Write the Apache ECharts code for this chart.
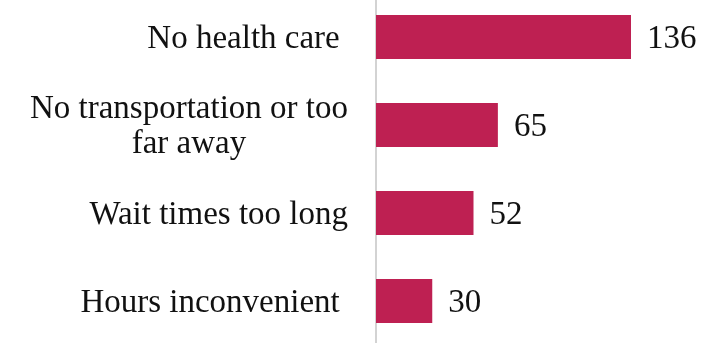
<!DOCTYPE html>
<html>
<head>
<meta charset="utf-8">
<script src="https://cdn.jsdelivr.net/npm/echarts@6/dist/echarts.min.js"></script>
<style>
  html, body { margin: 0; padding: 0; background: #ffffff; }
  #chart { width: 717px; height: 343px; }
</style>
</head>
<body>
<div id="chart"></div>
<script>
// Reasons for not getting care, counts of responses
const categories = [
  'No health care ',
  'No transportation or too\nfar away',
  'Wait times too long',
  'Hours inconvenient '
];
const counts = [136, 65, 52, 30];

const FONT = '"Liberation Serif", "DejaVu Serif", serif';
const BAR_COLOR = '#BE2052';
const TEXT_COLOR = '#111111';

const chart = echarts.init(document.getElementById('chart'), null, { renderer: 'canvas' });

chart.setOption({
  animation: false,
  backgroundColor: '#ffffff',
  grid: {
    left: 376, top: -7, width: 300, height: 352,
    containLabel: false,
    outerBoundsMode: 'none'
  },
  xAxis: {
    type: 'value',
    min: 0,
    max: 160,
    show: false
  },
  yAxis: {
    type: 'category',
    data: categories,
    inverse: true,
    axisLine: { show: true, lineStyle: { color: '#c4c4c4', width: 1.5 } },
    axisTick: { show: false },
    axisLabel: {
      margin: 28,
      align: 'right',
      fontFamily: FONT,
      fontSize: 33,
      color: TEXT_COLOR,
      lineHeight: 35,
      padding: [4, 0, 0, 0],
      // every line is centred inside the right-aligned label block
      formatter: function (v) {
        return v.split('\n').map(function (line) { return '{c|' + line + '}'; }).join('\n');
      },
      rich: {
        c: { align: 'center', fontFamily: FONT, fontSize: 33, lineHeight: 35, color: TEXT_COLOR }
      }
    }
  },
  series: [{
    type: 'bar',
    data: counts,
    barCategoryGap: '50%',
    itemStyle: { color: BAR_COLOR },
    label: {
      show: true,
      position: 'right',
      distance: 16,
      offset: [0, 2],
      fontFamily: FONT,
      fontSize: 33,
      color: TEXT_COLOR
    }
  }]
});
</script>
</body>
</html>
